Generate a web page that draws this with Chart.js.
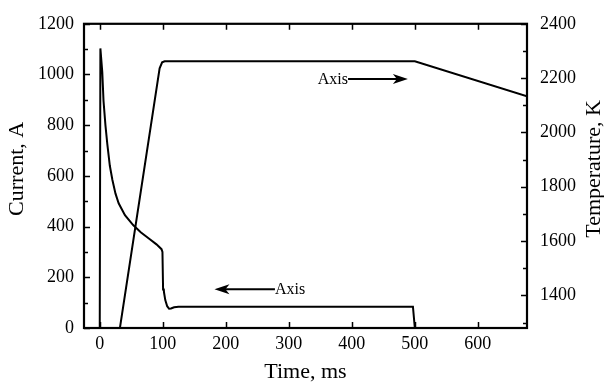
<!DOCTYPE html>
<html><head><meta charset="utf-8">
<script src="https://cdn.jsdelivr.net/npm/chart.js@4/dist/chart.umd.min.js"></script>
<style>html,body{margin:0;padding:0;background:#fff}</style>
</head><body>
<canvas id="c" width="604" height="386"></canvas>
<script>
// ---- data ----
const currentTime   = [0, 1, 4, 6, 9, 12, 16, 20, 25, 30, 40, 53, 65, 80, 90, 98, 99.5, 100.5, 101.5, 102, 104, 107, 110, 113, 118, 125, 300, 497, 500];
const currentValues = [0, 1103, 1010, 895, 800, 725, 640, 585, 530, 492, 445, 406, 378, 349, 330, 311, 300, 152, 155, 140, 110, 86, 76, 77, 82, 84, 84, 84, 0];
const tempTime   = [32, 95, 99, 103, 300, 500, 678];
const tempValues = [1280, 2236, 2258, 2262, 2262, 2262, 2133];
const xTickValues = [0, 100, 200, 300, 400, 500, 600];
const currentTickValues = [0, 200, 400, 600, 800, 1000, 1200];
const tempTickValues = [1400, 1600, 1800, 2000, 2200, 2400];
const axisTitles = ['Time, ms', 'Current, A', 'Temperature, K'];
const annotationLabels = ['Axis', 'Axis'];
const annotationAxes = ['y1', 'y'];
const annotationText = [394, 278];   // time where the label touches the shaft
const annotationTip  = [489, 182];   // time of arrow head
const annotationLevel = [2197, 153]; // value on its axis

const FONT = "'Liberation Serif', 'Times New Roman', serif";

const toPts = (xs, ys) => xs.map((t, i) => ({x: t, y: ys[i]}));

const framePlugin = {
  id: 'frame',
  afterDatasetsDraw(chart) {
    const {ctx, chartArea: a, scales} = chart;
    const {x, y, y1} = scales;
    ctx.save();
    ctx.strokeStyle = '#000';
    ctx.lineWidth = 1.5;
    ctx.beginPath();
    const L = 6, Lm = 4;
    xTickValues.forEach(v => {
      const p = Math.round(x.getPixelForValue(v)) + 0.5;
      ctx.moveTo(p, a.bottom); ctx.lineTo(p, a.bottom - L);
      ctx.moveTo(p, a.top); ctx.lineTo(p, a.top + L);
    });
    const sideTicks = (scale, vals, left) => {
      const step = vals[1] - vals[0];
      const all = [];
      vals.forEach(v => { all.push([v, L]); all.push([v - step / 2, Lm]); all.push([v + step / 2, Lm]); });
      all.forEach(([v, len]) => {
        if (v < scale.min || v > scale.max) return;
        const p = Math.round(scale.getPixelForValue(v)) + 0.5;
        if (left) { ctx.moveTo(a.left, p); ctx.lineTo(a.left + len, p); }
        else { ctx.moveTo(a.right, p); ctx.lineTo(a.right - len, p); }
      });
    };
    sideTicks(y, currentTickValues, true);
    sideTicks(y1, tempTickValues, false);
    ctx.stroke();
    ctx.lineWidth = 2.2;
    ctx.strokeRect(a.left, a.top, a.right - a.left, a.bottom - a.top);

    // vertical axis titles, both reading bottom-to-top
    ctx.font = '22px ' + FONT;
    ctx.fillStyle = '#000';
    ctx.textAlign = 'center';
    ctx.textBaseline = 'middle';
    const cy = (a.top + a.bottom) / 2 - 7;
    [[17, axisTitles[1]], [chart.width - 10, axisTitles[2]]].forEach(([tx, txt]) => {
      ctx.save();
      ctx.translate(tx, cy);
      ctx.rotate(-Math.PI / 2);
      ctx.fillText(txt, 0, 0);
      ctx.restore();
    });

    // arrows with labels
    ctx.font = '16px ' + FONT;
    ctx.textBaseline = 'middle';
    annotationLabels.forEach((lab, i) => {
      const sc = scales[annotationAxes[i]];
      const py = sc.getPixelForValue(annotationLevel[i]);
      const pt = x.getPixelForValue(annotationText[i]);
      const ph = x.getPixelForValue(annotationTip[i]);
      const dir = ph > pt ? 1 : -1;
      ctx.lineWidth = 2;
      ctx.beginPath();
      ctx.moveTo(pt, py); ctx.lineTo(ph - dir * 8, py);
      ctx.stroke();
      ctx.beginPath();
      ctx.moveTo(ph, py);
      ctx.lineTo(ph - dir * 15, py - 5);
      ctx.lineTo(ph - dir * 11, py);
      ctx.lineTo(ph - dir * 15, py + 5);
      ctx.closePath();
      ctx.fill();
      ctx.textAlign = dir > 0 ? 'right' : 'left';
      ctx.fillText(lab, pt, py + 1);
    });
    ctx.restore();
  }
};

const plain = v => String(v);

new Chart(document.getElementById('c'), {
  type: 'line',
  data: {
    datasets: [
      {label: 'Current', data: toPts(currentTime, currentValues), yAxisID: 'y',
       borderColor: '#000', borderWidth: 2, pointRadius: 0, tension: 0, fill: false},
      {label: 'Temperature', data: toPts(tempTime, tempValues), yAxisID: 'y1',
       borderColor: '#000', borderWidth: 2, pointRadius: 0, tension: 0, fill: false}
    ]
  },
  options: {
    responsive: false,
    animation: false,
    devicePixelRatio: 1,
    layout: {padding: {top: 14, left: 0, right: 0, bottom: 0}},
    plugins: {legend: {display: false}, tooltip: {enabled: false}},
    scales: {
      x: {
        type: 'linear', min: -25, max: 678,
        afterBuildTicks: s => { s.ticks = xTickValues.map(v => ({value: v})); },
        afterFit: s => { s.height = 58; },
        grid: {display: false, drawTicks: false},
        border: {display: false},
        ticks: {color: '#000', padding: 5, font: {family: FONT, size: 18}, callback: plain},
        title: {display: true, text: axisTitles[0], color: '#000',
                font: {family: FONT, size: 22, lineHeight: 1}, padding: {top: 0, bottom: 3}}
      },
      y: {
        type: 'linear', position: 'left', min: 0, max: 1200,
        afterBuildTicks: s => { s.ticks = currentTickValues.map(v => ({value: v})); },
        afterFit: s => { s.width = 84; },
        grid: {display: false, drawTicks: false},
        border: {display: false},
        ticks: {color: '#000', padding: 10, font: {family: FONT, size: 18}, callback: plain},
        title: {display: false}
      },
      y1: {
        type: 'linear', position: 'right', min: 1280, max: 2400,
        afterBuildTicks: s => { s.ticks = tempTickValues.map(v => ({value: v})); },
        afterFit: s => { s.width = 77; },
        grid: {display: false, drawTicks: false},
        border: {display: false},
        ticks: {color: '#000', padding: 13, font: {family: FONT, size: 18}, callback: plain},
        title: {display: false}
      }
    }
  },
  plugins: [framePlugin]
});
</script>
</body></html>
